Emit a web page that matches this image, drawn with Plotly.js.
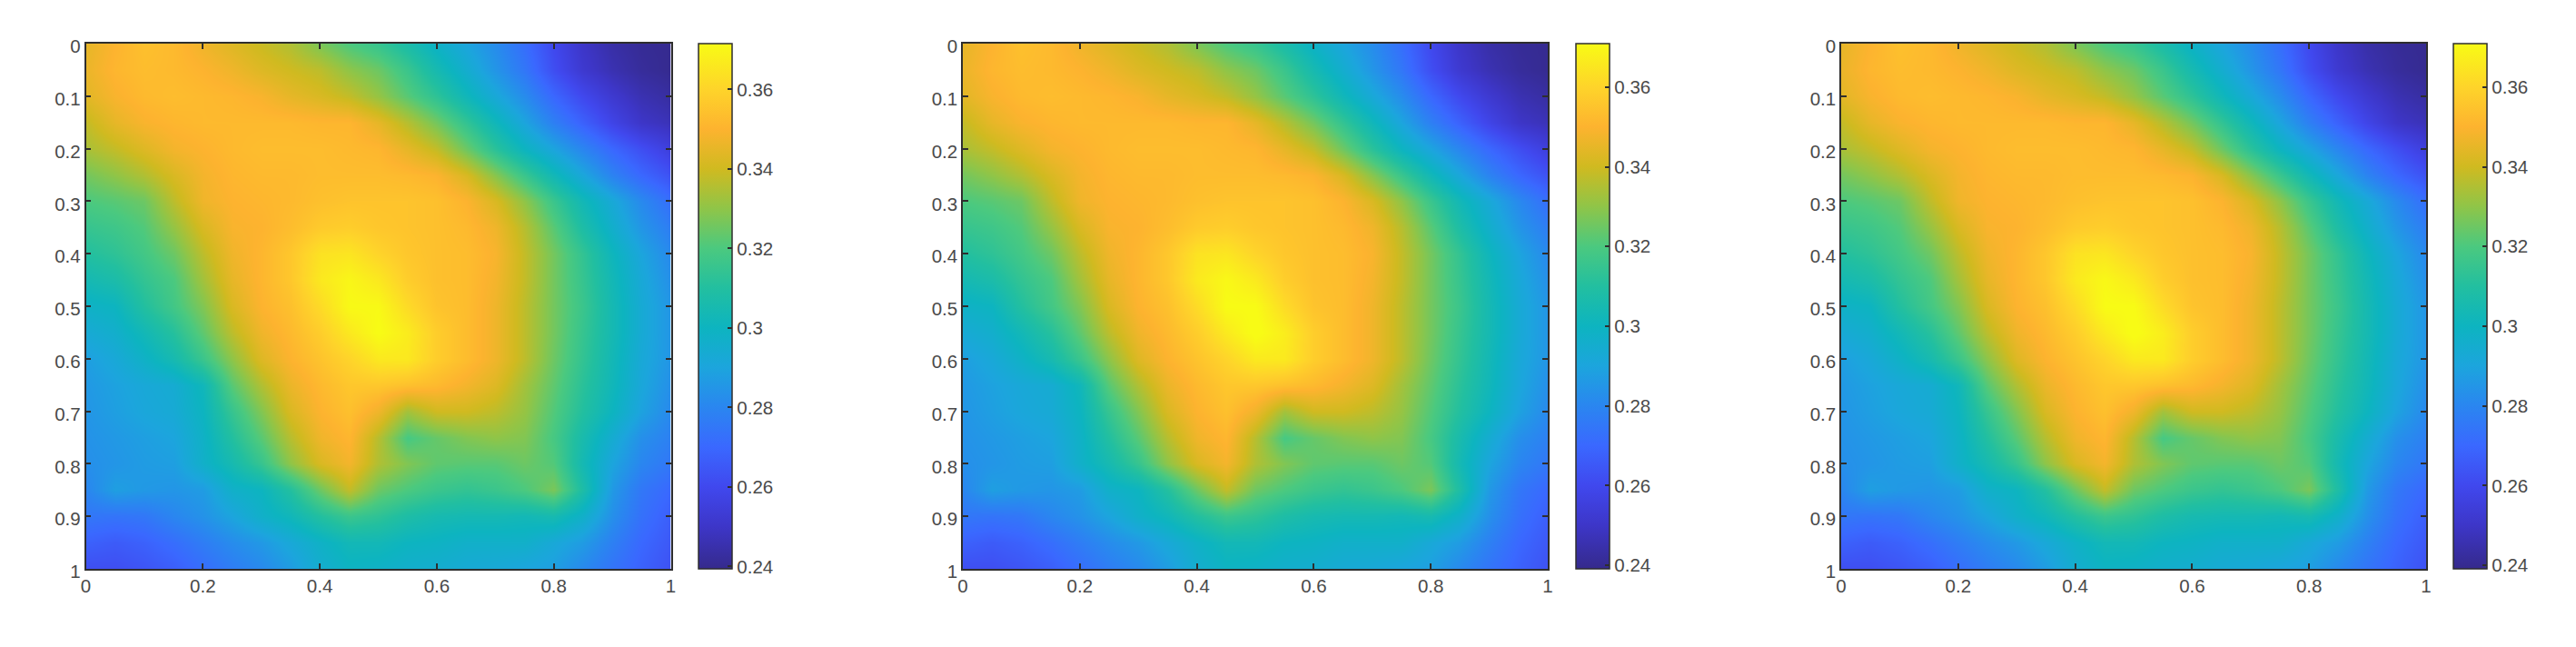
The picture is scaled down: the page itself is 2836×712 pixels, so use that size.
<!DOCTYPE html>
<html>
<head>
<meta charset="utf-8">
<script src="https://cdn.plot.ly/plotly-3.0.1.min.js"></script>
<style>body { margin: 0; background: #fff; }</style>
</head>
<body>
<div id="chart" style="width:2836px;height:712px"></div>
<script>
const gridX = [0, .05, .1, .15, .2, .25, .3, .35, .4, .45, .5, .55, .6, .65, .7, .75, .8, .85, .9, .95, 1]
const gridY = [0, .05, .1, .15, .2, .25, .3, .35, .4, .45, .5, .55, .6, .65, .7, .75, .8, .85, .9, .95, 1]

// one row per y
const surface = [
    [.345, .350, .354, .352, .347, .343, .339, .335, .327, .320, .315, .307, .298, .290, .282, .272, .260, .250, .244, .241, .240],
    [.346, .351, .353, .352, .350, .347, .343, .340, .337, .330, .325, .316, .305, .295, .285, .275, .262, .252, .246, .242, .240],
    [.344, .349, .352, .353, .352, .351, .349, .345, .342, .338, .331, .322, .313, .302, .292, .282, .270, .260, .252, .246, .243],
    [.338, .345, .349, .351, .352, .352, .352, .352, .351, .351, .345, .336, .326, .314, .302, .290, .278, .268, .258, .250, .247],
    [.334, .338, .343, .348, .350, .352, .353, .353, .353, .352, .351, .345, .338, .325, .312, .300, .290, .280, .270, .262, .255],
    [.326, .330, .335, .342, .348, .351, .352, .352, .353, .353, .353, .352, .350, .342, .329, .316, .303, .291, .279, .270, .263],
    [.320, .322, .325, .337, .347, .350, .351, .352, .354, .355, .355, .355, .354, .350, .342, .330, .316, .303, .292, .281, .272],
    [.315, .317, .321, .331, .342, .349, .350, .353, .357, .358, .356, .355, .354, .352, .347, .336, .322, .308, .296, .285, .277],
    [.310, .313, .318, .325, .337, .347, .351, .356, .364, .365, .360, .356, .354, .353, .349, .338, .326, .314, .301, .290, .281],
    [.304, .307, .314, .320, .333, .345, .351, .356, .366, .370, .366, .358, .354, .353, .348, .338, .326, .315, .303, .292, .283],
    [.298, .300, .310, .318, .328, .342, .350, .354, .362, .371, .371, .362, .355, .353, .347, .337, .326, .316, .304, .293, .285],
    [.293, .296, .303, .311, .323, .337, .347, .352, .358, .366, .372, .367, .358, .353, .347, .337, .326, .315, .304, .293, .285],
    [.288, .292, .298, .305, .316, .330, .343, .350, .355, .360, .366, .366, .358, .353, .347, .337, .325, .314, .303, .292, .285],
    [.286, .289, .292, .294, .302, .322, .335, .346, .352, .356, .356, .354, .352, .348, .343, .333, .323, .312, .302, .291, .283],
    [.285, .288, .291, .293, .300, .315, .328, .342, .350, .354, .347, .333, .340, .340, .337, .331, .321, .310, .300, .289, .281],
    [.284, .286, .288, .290, .298, .310, .322, .336, .347, .351, .336, .319, .324, .328, .330, .328, .319, .306, .294, .283, .278],
    [.283, .285, .287, .288, .297, .305, .315, .330, .342, .348, .335, .328, .323, .322, .322, .325, .321, .304, .290, .280, .275],
    [.280, .288, .286, .285, .287, .297, .300, .310, .325, .338, .325, .320, .316, .314, .316, .320, .327, .308, .286, .275, .270],
    [.275, .274, .275, .280, .284, .290, .297, .302, .310, .316, .313, .308, .305, .304, .304, .303, .305, .297, .283, .273, .267],
    [.268, .266, .268, .272, .277, .282, .286, .292, .298, .303, .303, .300, .299, .297, .297, .297, .292, .287, .278, .270, .265],
    [.262, .262, .264, .267, .272, .277, .281, .287, .295, .299, .298, .296, .295, .293, .292, .290, .288, .281, .274, .268, .263]
]

const colorValues = [.24, .25, .26, .27, .28, .29, .30, .31, .32, .33, .34, .35, .36, .3715]
const colorHex = ['#352a8c', '#3d36c8', '#4048ee', '#3a68ff', '#2a86f0', '#1ca5dd', '#0db4c0', '#22bfa0', '#4bc97f', '#8fc548', '#d0ba20', '#fdb32f', '#fed42a', '#f8fb15']

const xTicks = [0, .2, .4, .6, .8, 1]
const yTicks = [0, .1, .2, .3, .4, .5, .6, .7, .8, .9, 1]
const barTicks = [.24, .26, .28, .3, .32, .34, .36]
const barLabels = ['0.24', '0.26', '0.28', '0.3', '0.32', '0.34', '0.36']

// pixel frames of the three panels
const W = 2836, H = 712
const top_ = 48, bottom_ = 626, plotW = 644
const panels = [
    { left: 94.5, bar: 769, zmin: .2394, zmax: .3715 },
    { left: 1060, bar: 1735, zmin: .2391, zmax: .3709 },
    { left: 2027, bar: 2700.5, zmin: .2391, zmax: .3709 },
]

// colorscale has to run from exactly 0 to exactly 1
const scaleFor = (p) => {
    const last = colorValues.length - 1
    return colorValues.map((v, i) => {
        if (i === 0) return [0, colorHex[i]]
        if (i === last) return [1, colorHex[i]]
        return [(v - p.zmin) / (p.zmax - p.zmin), colorHex[i]]
    })
}

const axisLine = '#2e2e2e', labelColor = '#4a4a4a'
const tickFont = { family: 'Liberation Sans, Arial, sans-serif', size: 20.5, color: labelColor }

let data = [], layout = {
    width: W, height: H,
    margin: { l: 0, r: 0, t: 0, b: 0 },
    paper_bgcolor: '#fff',
    plot_bgcolor: '#fff',
    showlegend: false,
}

panels.forEach((p, i) => {
    const n = i === 0 ? '' : String(i + 1)
    data.push({
        type: 'heatmap',
        x: gridX, y: gridY, z: surface,
        xaxis: 'x' + n, yaxis: 'y' + n,
        zsmooth: 'best',
        zmin: p.zmin, zmax: p.zmax,
        colorscale: scaleFor(p),
        colorbar: {
            x: p.bar / W, xref: 'paper', xanchor: 'left', xpad: 0,
            y: 1 - top_ / H, yref: 'paper', yanchor: 'top', ypad: 0,
            thicknessmode: 'pixels', thickness: 37,
            lenmode: 'pixels', len: bottom_ - top_,
            outlinewidth: 1.5, outlinecolor: axisLine,
            ticks: 'inside', ticklen: 5, tickwidth: 1.5, tickcolor: axisLine,
            tickmode: 'array', tickvals: barTicks, ticktext: barLabels,
            tickfont: tickFont,
        },
    })
    const shared = {
        tickmode: 'array',
        ticks: 'inside', ticklen: 6, tickwidth: 1.5, tickcolor: axisLine,
        showline: true, linecolor: axisLine, linewidth: 1.5, mirror: 'ticks',
        showgrid: false, zeroline: false,
        tickfont: tickFont,
    }
    layout['xaxis' + n] = {
        ...shared,
        domain: [p.left / W, (p.left + plotW) / W],
        range: [0, 1],
        anchor: 'y' + n,
        tickvals: xTicks,
        ticktext: xTicks.map(String),
    }
    layout['yaxis' + n] = {
        ...shared,
        domain: [1 - bottom_ / H, 1 - top_ / H],
        range: [1, 0],
        anchor: 'x' + n,
        tickvals: yTicks,
        ticktext: yTicks.map(String),
        ticklabelshift: -3,
    }
})

Plotly.newPlot('chart', data, layout, { displayModeBar: false })
</script>
</body>
</html>
